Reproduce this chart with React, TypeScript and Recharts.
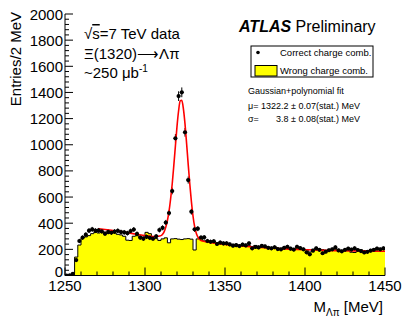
import React from 'react';
import { ComposedChart, Area, Line, Scatter, XAxis, YAxis, ErrorBar } from 'recharts';

// Histogram binning (2 MeV bins from 1250 to 1450 MeV)
const BIN_LOW = 1250;
const BIN_WIDTH = 2;

// Correct charge combination (data points), one per bin
const correctCounts = [
  0, 2, 12, 118, 264, 290, 312, 343, 353, 343,
  345, 338, 320, 333, 328, 336, 342, 332, 330, 324,
  340, 352, 318, 290, 282, 296, 288, 282, 300, 348,
  365, 405, 478, 646, 1049, 1372, 1401, 1095, 730, 488,
  353, 358, 290, 292, 264, 258, 262, 241, 252, 245,
  246, 238, 228, 232, 225, 236, 230, 246, 208, 218,
  215, 226, 222, 212, 208, 216, 202, 200, 212, 220,
  205, 198, 220, 210, 200, 177, 162, 190, 208, 196,
  170, 182, 193, 200, 215, 192, 185, 196, 205, 198,
  208, 195, 187, 176, 181, 190, 196, 206, 200, 208,
];

// Wrong charge combination (yellow histogram), one per bin
const wrongCounts = [
  0, 3, 20, 141, 233, 287, 295, 305, 320, 330,
  325, 330, 318, 322, 330, 325, 315, 310, 300, 270,
  268, 300, 305, 300, 292, 330, 320, 285, 282, 268,
  280, 288, 250, 280, 282, 278, 275, 280, 282, 278,
  195, 280, 292, 265, 262, 255, 258, 250, 245, 250,
  240, 235, 238, 230, 232, 235, 225, 228, 222, 230,
  218, 220, 215, 218, 212, 220, 208, 205, 215, 210,
  200, 206, 212, 200, 204, 198, 180, 200, 205, 196,
  198, 190, 200, 196, 202, 194, 192, 198, 190, 178,
  176, 195, 196, 190, 188, 195, 190, 198, 196, 200,
];

// Gaussian + polynomial fit curve
const fitMass = [
  1271, 1275, 1280, 1285, 1290, 1295, 1300, 1305, 1308, 1310,
  1311, 1312, 1313, 1314, 1315, 1316, 1317, 1318, 1319, 1320,
  1321, 1322, 1323, 1324, 1325, 1326, 1327, 1328, 1329, 1330,
  1331, 1332, 1333, 1334, 1335, 1336, 1338, 1340, 1345, 1350,
  1360, 1370, 1380, 1390, 1400, 1410, 1420, 1430, 1440, 1450,
];
const fitValues = [
  358, 352, 344, 336, 325, 315, 305, 298, 300, 305,
  315, 335, 370, 420, 490, 585, 700, 840, 990, 1140,
  1260, 1335, 1340, 1275, 1160, 1010, 850, 700, 565, 455,
  375, 325, 295, 278, 268, 263, 259, 255, 245, 237,
  226, 216, 208, 202, 197, 193, 190, 188, 186, 185,
];

const X_DOMAIN = [1250, 1450];
const Y_DOMAIN = [0, 2000];
const xTicks = [
  1250, 1260, 1270, 1280, 1290, 1300, 1310, 1320, 1330, 1340,
  1350, 1360, 1370, 1380, 1390, 1400, 1410, 1420, 1430, 1440, 1450,
];
const yTicks = [
  0, 40, 80, 120, 160, 200, 240, 280, 320, 360, 400, 440, 480, 520, 560,
  600, 640, 680, 720, 760, 800, 840, 880, 920, 960, 1000, 1040, 1080, 1120,
  1160, 1200, 1240, 1280, 1320, 1360, 1400, 1440, 1480, 1520, 1560, 1600,
  1640, 1680, 1720, 1760, 1800, 1840, 1880, 1920, 1960, 2000,
];
const X_MAJOR = 50;
const Y_MAJOR = 200;

// layout
const W = 403;
const H = 320;
const PL = 65;
const PR = 385;
const PT = 14;
const PB = 275.5;
const FONT = '"Liberation Sans", Arial, Helvetica, sans-serif';

const histData = wrongCounts
  .map((v, i) => ({ x: BIN_LOW + i * BIN_WIDTH, wrong: v }))
  .concat([{ x: BIN_LOW + wrongCounts.length * BIN_WIDTH, wrong: wrongCounts[wrongCounts.length - 1] }]);

const pointData = correctCounts.map((v, i) => ({
  x: BIN_LOW + i * BIN_WIDTH + BIN_WIDTH / 2,
  y: v,
  err: Math.sqrt(v),
  xerr: BIN_WIDTH / 2,
}));

const fitData = fitMass.map((m, i) => ({ x: m, fit: fitValues[i] }));

const LeftTick = (props: any) => {
  const { y, payload } = props;
  const v = payload.value;
  const major = v % Y_MAJOR === 0;
  return (
    <g>
      <line x1={PL} x2={PL + (major ? 8 : 4)} y1={y} y2={y} stroke="#000" strokeWidth={1} />
      {major && (
        <text x={PL - 2} y={v === 0 ? y - 4 : y} textAnchor="end" dominantBaseline="central" fontSize={15} fontFamily={FONT} fill="#000">
          {v}
        </text>
      )}
    </g>
  );
};

const RightTick = (props: any) => {
  const { y, payload } = props;
  const major = payload.value % Y_MAJOR === 0;
  return <line x1={PR} x2={PR - (major ? 8 : 4)} y1={y} y2={y} stroke="#000" strokeWidth={1} />;
};

const BottomTick = (props: any) => {
  const { x, payload } = props;
  const v = payload.value;
  const major = v % X_MAJOR === 0;
  return (
    <g>
      <line x1={x} x2={x} y1={PB} y2={PB - (major ? 8 : 4)} stroke="#000" strokeWidth={1} />
      {major && (
        <text x={x} y={PB + 9.5} textAnchor="middle" dominantBaseline="central" fontSize={15} fontFamily={FONT} fill="#000">
          {v}
        </text>
      )}
    </g>
  );
};

const TopTick = (props: any) => {
  const { x, payload } = props;
  const major = payload.value % X_MAJOR === 0;
  return <line x1={x} x2={x} y1={PT} y2={PT + (major ? 8 : 4)} stroke="#000" strokeWidth={1} />;
};

const Dot = (props: any) => {
  const { cx, cy } = props;
  if (cx == null || cy == null) return null;
  return <circle cx={cx} cy={cy} r={2.1} fill="#000" />;
};

export default function App() {
  return (
    <div style={{ position: 'absolute', left: 0, top: 0, width: W, height: H, background: '#fff' }}>
      <ComposedChart
        width={W}
        height={H}
        data={histData}
        margin={{ top: PT, right: W - PR, bottom: 0, left: 0 }}
      >
        <XAxis
          dataKey="x"
          type="number"
          domain={X_DOMAIN}
          ticks={xTicks}
          interval={0}
          height={H - PB}
          axisLine={{ stroke: '#000' }}
          tickLine={false}
          tick={<BottomTick />}
          allowDataOverflow
        />
        <XAxis
          xAxisId="top"
          orientation="top"
          dataKey="x"
          type="number"
          domain={X_DOMAIN}
          ticks={xTicks}
          interval={0}
          height={0}
          axisLine={{ stroke: '#000' }}
          tickLine={false}
          tick={<TopTick />}
          allowDataOverflow
        />
        <YAxis
          type="number"
          domain={Y_DOMAIN}
          ticks={yTicks}
          interval={0}
          width={PL}
          axisLine={{ stroke: '#000' }}
          tickLine={false}
          tick={<LeftTick />}
          allowDataOverflow
        />
        <YAxis
          yAxisId="right"
          orientation="right"
          type="number"
          domain={Y_DOMAIN}
          ticks={yTicks}
          interval={0}
          width={0}
          axisLine={{ stroke: '#000' }}
          tickLine={false}
          tick={<RightTick />}
          allowDataOverflow
        />
        <Area
          type="stepAfter"
          dataKey="wrong"
          fill="#ffff00"
          fillOpacity={1}
          stroke="#000"
          strokeWidth={1}
          isAnimationActive={false}
          dot={false}
          activeDot={false}
        />
        <Scatter data={pointData} dataKey="y" shape={<Dot />} isAnimationActive={false}>
          <ErrorBar dataKey="err" direction="y" width={0} stroke="#000" strokeWidth={1} />
          <ErrorBar dataKey="xerr" direction="x" width={0} stroke="#000" strokeWidth={1} />
        </Scatter>
        <Line
          data={fitData}
          dataKey="fit"
          type="monotone"
          stroke="#ff0000"
          strokeWidth={1.6}
          dot={false}
          activeDot={false}
          isAnimationActive={false}
        />
      </ComposedChart>
      <svg
        width={W}
        height={H}
        style={{ position: 'absolute', left: 0, top: 0, pointerEvents: 'none' }}
        fontFamily={FONT}
      >
        <text transform="translate(21,12) rotate(-90)" textAnchor="end" fontSize={15} fill="#000">
          Entries/2 MeV
        </text>
        <text x={383} y={312} textAnchor="end" fontSize={15} fill="#000">
          M<tspan dy={4} fontSize={10}>Λπ</tspan>
          <tspan dy={-4}> [MeV]</tspan>
        </text>

        <text x={84} y={39} fontSize={15} fill="#000">
          √<tspan style={{ textDecoration: 'overline' }}>s</tspan>=7 TeV data
        </text>
        <text x={84} y={58.5} fontSize={15} fill="#000">
          Ξ(1320)⟶Λπ
        </text>
        <text x={84} y={78} fontSize={15} fill="#000">
          ~250 μb<tspan dy={-6} fontSize={10}>-1</tspan>
        </text>

        <text x={239} y={32} fontSize={16} fill="#000">
          <tspan fontWeight="bold" fontStyle="italic">ATLAS</tspan>
          <tspan> Preliminary</tspan>
        </text>

        <rect x={251} y={46} width={122} height={31} fill="#fff" stroke="#000" strokeWidth={1} />
        <circle cx={258} cy={52.5} r={1.8} fill="#000" />
        <text x={280} y={55.8} fontSize={9.5} fill="#000">
          Correct charge comb.
        </text>
        <rect x={255} y={65.5} width={22} height={10.5} fill="#ffff00" stroke="#000" strokeWidth={1} />
        <text x={280} y={74} fontSize={9.5} fill="#000">
          Wrong charge comb.
        </text>

        <text x={248} y={93.5} fontSize={9} fill="#000">
          Gaussian+polynomial fit
        </text>
        <text x={248} y={108.5} fontSize={9} fill="#000">
          μ= 1322.2 ± 0.07(stat.) MeV
        </text>
        <text x={248} y={121.5} fontSize={9} fill="#000">
          σ=
        </text>
        <text x={276} y={121.5} fontSize={9} fill="#000">
          3.8 ± 0.08(stat.) MeV
        </text>
      </svg>
    </div>
  );
}
